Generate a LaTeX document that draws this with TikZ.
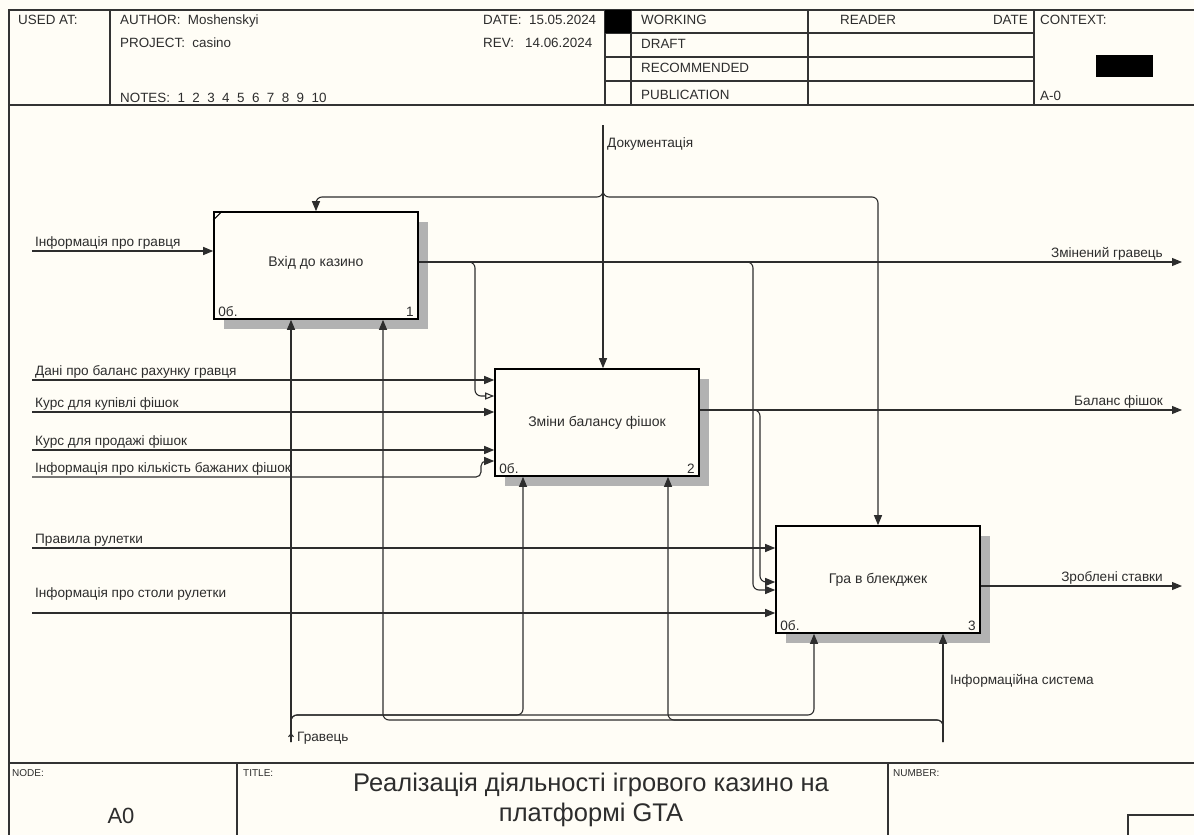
\documentclass[tikz,border=0pt]{standalone}
\usepackage{fontspec}
\setmainfont{Liberation Sans}
\usetikzlibrary{positioning,arrows.meta,decorations.markings,patterns,shadows}
\definecolor{paper}{RGB}{255,253,246}
\definecolor{ink}{RGB}{45,45,45}
\newcommand{\lblfont}{\fontsize{13.6}{15}\selectfont}
\newcommand{\hdrfont}{\fontsize{13.4}{15}\selectfont}
\tikzset{
  act/.style={draw,line width=1.6pt,fill=paper,minimum width=204pt,minimum height=107pt,inner sep=0pt,font=\fontsize{14}{16}\selectfont,text=ink,
    general shadow={shadow xshift=10pt,shadow yshift=-10pt,draw=none,fill=black!30}},
  arr/.style={line width=1.1pt,draw=ink,-{Triangle[length=10pt,width=8pt]},rounded corners=6pt},
  harr/.style={arr,-{Triangle[open,length=9pt,width=7pt]}},
  gmark/.style={postaction={decorate},decoration={markings,mark=at position 9pt with {\arrow{Straight Barb[length=3pt,width=5pt]}}}},
  lab/.style={font=\lblfont,text=ink,inner sep=0pt,anchor=base west},
  rlab/.style={lab,anchor=base east},
  hdr/.style={font=\hdrfont,text=ink,inner sep=0pt,anchor=base west},
  tiny/.style={font=\fontsize{10}{12}\selectfont,text=ink,inner sep=0pt,anchor=base west},
  frameline/.style={line width=1.1pt,draw=black!80},
  cnum/.style={font=\lblfont,text=ink,inner sep=0pt}
}
\begin{document}
\begin{tikzpicture}[x=1pt,y=-1pt]
  \useasboundingbox (0,0) rectangle (1194,835);
  \clip (0,0) rectangle (1194,835);
  \fill[paper] (0,0) rectangle (1194,835);

  % frame, header and footer
  \draw[frameline] (9,840) -- (9,10) -- (1200,10);
  \draw[frameline] (9,105) -- (1200,105);
  \draw[frameline] (110,10) -- (110,105);
  \draw[frameline] (605,10) -- (605,105); \draw[frameline] (631,10) -- (631,105);
  \draw[frameline] (808,10) -- (808,105); \draw[frameline] (1034,10) -- (1034,105);
  \draw[frameline] (605,33) -- (1034,33); \draw[frameline] (605,57) -- (1034,57); \draw[frameline] (605,81) -- (1034,81);
  \fill[black] (605,10) rectangle (631,33);
  \fill[black] (1096,55) rectangle (1153,77);
  \node[hdr] (usedat) at (18,24) {USED AT:};
  \node[hdr] (author) at (120,24) {AUTHOR:\ \ Moshenskyi};
  \node[hdr] (project) at (120,47) {PROJECT:\ \ casino};
  \node[hdr] (notes) at (120,102) {NOTES:\ \ 1\ \ 2\ \ 3\ \ 4\ \ 5\ \ 6\ \ 7\ \ 8\ \ 9\ \ 10};
  \node[hdr] (date) at (483,24) {DATE:\ \ 15.05.2024};
  \node[hdr] (rev) at (483,47) {REV:\ \ \ 14.06.2024};
  \node[hdr] (working) at (641,24) {WORKING};
  \node[hdr] (draft) at (641,48) {DRAFT};
  \node[hdr] (recom) at (641,72) {RECOMMENDED};
  \node[hdr] (publ) at (641,99) {PUBLICATION};
  \node[hdr] (reader) at (840,24) {READER};
  \node[hdr,anchor=base east] (rdate) at (1028,24) {DATE};
  \node[hdr] (context) at (1040,24) {CONTEXT:};
  \node[hdr] (ctxnode) at (1040,100) {A-0};

  \draw[frameline] (9,763) -- (1200,763);
  \draw[frameline] (237,763) -- (237,840); \draw[frameline] (888,763) -- (888,840);
  \draw[frameline] (1128,840) -- (1128,815) -- (1200,815);
  \node[tiny] (nodelbl) at (12,776) {NODE:};
  \node[tiny] (titlelbl) at (243,776) {TITLE:};
  \node[tiny] (numlbl) at (893,776) {NUMBER:};
  \node[font=\fontsize{22}{24}\selectfont,text=ink] (nodeno) at (121,816) {A0};
  \node[font=\fontsize{25.5}{30}\selectfont,text=ink,align=center] (title) at (591,800) {Реалізація діяльності ігрового казино на\\платформі GTA};

  % activity boxes
  \node[act] (b1) at (316,265.5) {\raisebox{8pt}{Вхід до казино}};
  \node[act] (b2) at (597,422.5) {Зміни балансу фішок};
  \node[act] (b3) at (878,579.5) {Гра в блекджек};
  \draw[line width=1.1pt] ([yshift=-9pt]b1.north west) -- ([xshift=9pt]b1.north west);
  \node[cnum,anchor=south west] at ([shift={(5pt,3pt)}]b1.south west) {0б.};
  \node[cnum,anchor=south east] at ([shift={(-5pt,3pt)}]b1.south east) {1};
  \node[cnum,anchor=south west] at ([shift={(5pt,3pt)}]b2.south west) {0б.};
  \node[cnum,anchor=south east] at ([shift={(-5pt,3pt)}]b2.south east) {2};
  \node[cnum,anchor=south west] at ([shift={(5pt,3pt)}]b3.south west) {0б.};
  \node[cnum,anchor=south east] at ([shift={(-5pt,3pt)}]b3.south east) {3};

  % inputs
  \coordinate (i1) at (32,251); \coordinate (i2) at (32,380); \coordinate (i3) at (32,412);
  \coordinate (i4) at (32,450); \coordinate (i5) at (32,477); \coordinate (i6) at (32,548); \coordinate (i7) at (32,613);
  \draw[arr] (i1) -- (i1 -| b1.west);
  \draw[arr] (i2) -- (i2 -| b2.west);
  \draw[arr] (i3) -- (i3 -| b2.west);
  \draw[arr] (i4) -- (i4 -| b2.west);
  \draw[arr,rounded corners=5pt] (i5) -- (481,477) -- (481,461) -- (b2.west |- 0,461);
  \draw[arr] (i6) -- (i6 -| b3.west);
  \draw[arr] (i7) -- (i7 -| b3.west);
  \node[lab] at (35,246) {Інформація про гравця};
  \node[lab] at (35,375) {Дані про баланс рахунку гравця};
  \node[lab] at (35,407) {Курс для купівлі фішок};
  \node[lab] at (35,445) {Курс для продажі фішок};
  \node[lab] at (35,472) {Інформація про кількість бажаних фішок};
  \node[lab] at (35,543) {Правила рулетки};
  \node[lab] at (35,597) {Інформація про столи рулетки};

  % outputs
  \coordinate (o1) at (1182,262); \coordinate (o2) at (1182,410); \coordinate (o3) at (1182,586);
  \draw[arr] (o1 -| b1.east) -- (o1);
  \draw[harr] (o1 -| b1.east) -- (475,262) -- (475,396) -- (b2.west |- 0,396);
  \draw[arr] (o1 -| b1.east) -- (753,262) -- (753,590) -- (b3.west |- 0,590);
  \draw[arr] (o2 -| b2.east) -- (o2);
  \draw[arr] (o2 -| b2.east) -- (760,410) -- (760,582) -- (b3.west |- 0,582);
  \draw[arr] (o3 -| b3.east) -- (o3);
  \node[rlab] at (1163,257) {Змінений гравець};
  \node[rlab] at (1163,405) {Баланс фішок};
  \node[rlab] at (1163,581) {Зроблені ставки};

  % control
  \coordinate (doc) at (603,125); \coordinate (dj) at (603,197);
  \draw[arr] (doc) -- (doc |- b2.north);
  \draw[arr] (doc) -- (dj) -- (dj -| b1.north) -- (b1.north);
  \draw[arr] (doc) -- (dj) -- (dj -| b3.north) -- (b3.north);
  \node[lab] at (607,147) {Документація};

  % mechanisms
  \coordinate (gr) at (291,742); \coordinate (gj) at (291,715);
  \coordinate (is) at (943,742); \coordinate (ij) at (943,720);
  \draw[arr,gmark] (gr) -- (gr |- b1.south);
  \draw[arr] (gr) -- (gj) -- (523,715) -- (523,0 |- b2.south);
  \draw[arr] (gr) -- (gj) -- (814,715) -- (814,0 |- b3.south);
  \draw[arr] (is) -- (is |- b3.south);
  \draw[arr] (is) -- (ij) -- (383,720) -- (383,0 |- b1.south);
  \draw[arr] (is) -- (ij) -- (668,720) -- (668,0 |- b2.south);
  \node[lab] at (297,741) {Гравець};
  \node[lab] at (950,684) {Інформаційна система};
\end{tikzpicture}
\end{document}
